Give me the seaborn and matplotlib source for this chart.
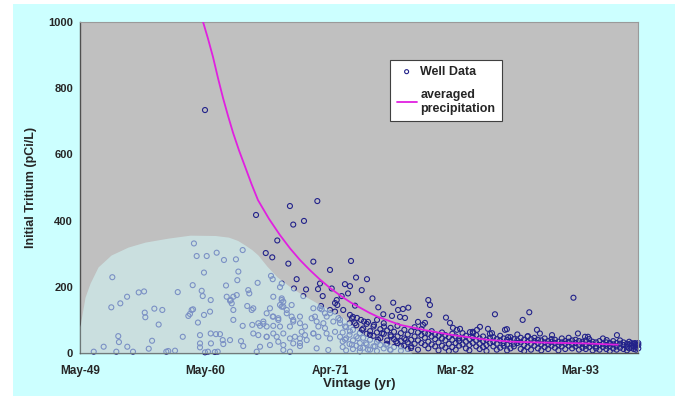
import numpy as np
import pandas as pd
import matplotlib
matplotlib.use("Agg")
import matplotlib.pyplot as plt
from matplotlib.patches import Rectangle
import seaborn as sns

# ---- well measurements: vintage (decimal year) and initial tritium (pCi/L) ----
well_years_light = [
    1950.59, 1951.46, 1952.22, 1952.13, 1952.57, 1952.74, 1952.80, 1952.92, 1953.51, 1953.53,
    1954.03, 1954.53, 1955.00, 1955.06, 1955.11, 1955.41, 1955.70, 1955.90, 1956.28, 1956.60,
    1956.95, 1957.71, 1957.95, 1958.39, 1959.02, 1959.17, 1959.26, 1959.37, 1959.61, 1959.72,
    1959.90, 1959.90, 1960.05, 1960.14, 1960.25, 1960.25, 1960.49, 1960.78, 1960.84, 1960.84,
    1961.30, 1961.36, 1961.65, 1961.89, 1962.00, 1962.18, 1962.24, 1962.53, 1962.59, 1962.82,
    1962.82, 1962.82, 1963.05, 1963.12, 1963.17, 1963.26, 1963.64, 1963.64, 1963.69, 1964.04,
    1964.13, 1964.22, 1964.57, 1964.57, 1964.87, 1964.95, 1965.16, 1965.16, 1965.45, 1965.74,
    1965.74, 1966.03, 1966.03, 1966.12, 1966.27, 1966.27, 1966.62, 1966.76, 1966.91, 1967.06,
    1967.20, 1967.20, 1967.50, 1967.78, 1967.78, 1968.07, 1968.07, 1968.66, 1968.66, 1968.81,
    1969.25, 1969.83, 1969.97, 1970.41, 1970.85, 1971.29, 1971.58, 1971.73, 1971.88, 1970.56,
    1962.53, 1962.68, 1964.43, 1959.29, 1958.88, 1964.48, 1959.90, 1960.86, 1961.94, 1963.49,
    1960.34, 1961.45, 1957.12,
    1966.32, 1967.06, 1967.20, 1966.91, 1967.06, 1967.93, 1967.50, 1967.93, 1969.83, 1966.32,
    1966.76, 1965.01, 1965.45, 1965.74, 1966.32, 1966.91, 1967.20, 1968.07, 1968.66, 1969.10,
    1969.68, 1970.12, 1970.27, 1970.71, 1970.85, 1971.00, 1971.29, 1971.73, 1972.02, 1972.17,
    1965.01, 1965.74, 1966.32, 1966.76, 1967.78, 1968.22, 1968.66, 1969.10, 1969.83, 1970.27,
    1970.99, 1971.29, 1971.73, 1972.17, 1967.20, 1968.66, 1970.12, 1971.14,
    1972.17, 1972.61, 1973.04, 1973.48, 1973.74, 1974.09, 1974.44, 1974.79, 1975.14, 1975.50,
    1975.85, 1976.20, 1976.64, 1977.08, 1977.51, 1977.95, 1978.39, 1972.61, 1973.21, 1973.92,
    1974.62, 1975.23, 1976.55, 1973.21, 1974.27, 1976.02,
]
well_vals_light = [
    4, 19, 229, 138, 4, 51, 33, 150, 170, 19,
    4, 183, 186, 122, 108, 13, 37, 134, 86, 130,
    4, 7, 184, 49, 118, 130, 205, 331, 293, 92,
    54, 29, 188, 172, 243, 115, 293, 125, 160, 59,
    57, 303, 57, 39, 281, 204, 170, 39, 160, 170,
    130, 100, 283, 175, 220, 246, 311, 82, 21, 142,
    190, 180, 135, 59, 4, 212, 82, 19, 88, 120,
    49, 135, 24, 233, 110, 223, 49, 100, 199, 160,
    140, 9, 130, 80, 4, 100, 29, 110, 30, 64,
    39, 59, 110, 135, 120, 130, 95, 151, 160, 132,
    158, 150, 130, 132, 112, 85, 17, 29, 27, 36,
    2, 4, 6,
    170, 165, 155, 145, 140, 145, 120, 110, 135, 110,
    105, 90, 95, 80, 82, 80, 59, 95, 90, 80,
    105, 95, 80, 90, 75, 110, 120, 125, 105, 90,
    54, 49, 59, 34, 44, 49, 44, 54, 59, 49,
    59, 44, 64, 49, 24, 21, 14, 9,
    100, 80, 65, 90, 45, 70, 30, 55, 85, 40,
    60, 25, 50, 35, 20, 40, 15, 40, 25, 15,
    10, 20, 10, 105, 95, 80,
]

well_years_dark = [
    1960.34, 1964.81, 1967.78, 1970.18, 1968.07, 1969.01, 1966.67, 1965.66, 1966.23, 1967.64,
    1969.83, 1971.29, 1968.37, 1967.06, 1968.13, 1969.19, 1970.24, 1970.41, 1971.44, 1968.95,
    1970.65, 1971.93, 1970.50, 1973.13, 1973.57, 1974.53, 1972.60, 1973.04, 1974.07, 1972.87,
    1972.31, 1975.01, 1973.48, 1972.45, 1975.52, 1976.83, 1978.15, 1977.25, 1977.68, 1975.96,
    1976.72, 1977.42, 1977.86, 1973.04, 1973.30, 1973.65, 1974.00, 1974.62, 1975.41, 1979.00,
    1979.44, 1979.90, 1980.05, 1979.99, 1979.61, 1981.45, 1981.80, 1982.06, 1982.41, 1982.68,
    1985.74, 1984.43, 1984.17, 1983.55, 1983.81, 1985.13, 1985.48, 1986.62, 1986.88, 1988.75,
    1988.17, 1992.62, 1993.01, 1993.63, 1990.74, 1989.42, 1989.68, 1986.79, 1988.63, 1996.43,
    1993.89, 1995.53, 1995.82, 1998.01, 1998.18, 1960.60, 1961.20,
]
well_vals_dark = [
    734, 417, 444, 459, 388, 399, 340, 302, 289, 270,
    276, 251, 223, 210, 195, 192, 193, 210, 195, 172,
    172, 145, 142, 278, 228, 223, 208, 202, 190, 180,
    172, 165, 143, 130, 138, 152, 137, 130, 133, 117,
    112, 109, 106, 115, 109, 106, 100, 94, 100, 94,
    85, 160, 145, 115, 91, 107, 91, 76, 70, 73,
    117, 79, 70, 63, 60, 73, 60, 70, 48, 123,
    100, 167, 59, 49, 54, 70, 59, 72, 51, 54,
    49, 39, 29, 30, 24, 4, 3,
]

# dense low-level band of recent wells
band_years = [
    1972.4, 1972.7, 1973.0, 1973.3, 1973.6, 1973.9, 1974.2, 1974.5, 1974.8, 1975.1,
    1975.4, 1975.7, 1976.0, 1976.3, 1976.6, 1976.9, 1977.2, 1977.5, 1977.8, 1978.1,
    1978.4, 1978.7, 1979.0, 1979.3, 1979.6, 1979.9, 1980.2, 1980.5, 1980.8, 1981.1,
    1981.4, 1981.7, 1982.0, 1982.3, 1982.6, 1982.9, 1983.2, 1983.5, 1983.8, 1984.1,
    1984.4, 1984.7, 1985.0, 1985.3, 1985.6, 1985.9, 1986.2, 1986.5, 1986.8, 1987.1,
    1987.4, 1987.7, 1988.0, 1988.3, 1988.6, 1988.9, 1989.2, 1989.5, 1989.8, 1990.1,
    1990.4, 1990.7, 1991.0, 1991.3, 1991.6, 1991.9, 1992.2, 1992.5, 1992.8, 1993.1,
    1993.4, 1993.7, 1994.0, 1994.3, 1994.6, 1994.9, 1995.2, 1995.5, 1995.8, 1996.1,
    1996.4, 1996.7, 1997.0, 1997.3, 1997.5, 1997.7, 1997.9, 1998.1, 1998.3,
]
band_vals_a = [
    62, 78, 55, 70, 84, 60, 74, 58, 66, 80, 62, 72, 90, 68, 54, 64, 82, 60, 70, 56,
    66, 50, 62, 54, 46, 58, 50, 42, 52, 44, 38, 48, 40, 50, 36, 46, 34, 42, 48, 38,
    44, 36, 40, 46, 34, 42, 38, 30, 40, 36, 28, 38, 32, 40, 34, 28, 36, 30, 38, 32,
    26, 34, 30, 24, 32, 28, 34, 26, 30, 36, 28, 22, 30, 26, 32, 24, 28, 22, 30, 26,
    20, 28, 24, 18, 26, 22, 28, 18, 24,
]
band_vals_b = [
    35, 44, 27, 38, 50, 30, 46, 88, 40, 52, 34, 45, 58, 38, 76, 42, 50, 36, 44, 32,
    40, 28, 38, 30, 24, 34, 26, 20, 32, 22, 54, 28, 58, 30, 44, 26, 52, 24, 30, 20,
    28, 50, 24, 30, 20, 28, 52, 44, 26, 48, 42, 30, 46, 24, 50, 42, 22, 40, 26, 44,
    36, 22, 40, 34, 44, 36, 22, 38, 20, 24, 34, 38, 18, 34, 20, 36, 18, 32, 20, 36,
    30, 16, 32, 28, 14, 30, 12, 26, 14,
]
band_vals_c = [
    18, 8, 90, 12, 22, 5, 16, 26, 10, 20, 6, 24, 14, 28, 9, 18, 30, 7, 22, 12,
    20, 78, 10, 72, 60, 14, 66, 56, 8, 62, 16, 6, 18, 10, 22, 60, 14, 8, 64, 54,
    12, 18, 6, 58, 48, 10, 16, 22, 8, 14, 20, 56, 12, 6, 18, 10, 46, 14, 8, 18,
    12, 42, 16, 8, 20, 12, 46, 14, 40, 10, 16, 12, 42, 8, 14, 10, 44, 12, 6, 14,
    10, 38, 12, 8, 34, 16, 20, 10, 30,
]

# ---- averaged precipitation curve ----
curve_years = [1959.90, 1960.17, 1960.60, 1961.04, 1961.48, 1961.92, 1962.36, 1962.80, 1963.33,
               1963.86, 1964.42, 1964.98, 1965.95, 1966.91, 1967.79, 1968.66, 1969.54, 1970.41,
               1971.38, 1972.34, 1973.13, 1973.92, 1974.71, 1975.50, 1977.43, 1979.62, 1982.07,
               1985.05, 1987.24, 1990.57, 1993.63, 1996.52]
curve_vals = [1040, 1000, 950, 894, 830, 770, 716, 665, 611, 562, 510, 462, 405, 356, 316, 281,
              250, 222, 194, 170, 152, 137, 122, 109, 85, 69, 54, 40, 34, 31, 29, 25]

# ---- shaded envelope ----
area_years = [1949.39, 1949.48, 1949.83, 1950.27, 1950.97, 1952.11, 1953.60, 1955.09, 1957.10,
              1959.03, 1961.22, 1962.40, 1963.20, 1963.85, 1964.45, 1964.98, 1965.77, 1966.65,
              1967.79, 1968.92, 1970.15, 1971.29, 1972.34, 1973.48, 1974.62, 1976.11, 1977.60,
              1978.48]
area_vals = [80, 100, 169, 211, 260, 296, 320, 335, 347, 356, 355, 350, 340, 326, 312, 296,
             262, 230, 200, 175, 151, 130, 109, 75, 48, 30, 18, 0]

tick_labels = ["May-49", "May-60", "Apr-71", "Mar-82", "Mar-93"]


def to_dates(years):
    out = []
    for y in years:
        base = pd.Timestamp(int(y), 1, 1)
        out.append(base + pd.Timedelta(days=(y - int(y)) * 365.25))
    return pd.to_datetime(out)


wells = pd.DataFrame({
    "date": to_dates(list(well_years_light) + list(well_years_dark) + band_years * 3),
    "tritium": list(well_vals_light) + list(well_vals_dark) + band_vals_a + band_vals_b + band_vals_c,
})
curve = pd.DataFrame({"date": to_dates(curve_years), "tritium": curve_vals})
area_dates = to_dates(area_years)

sns.set_theme(style="white")
plt.rcParams["font.family"] = ["Liberation Sans", "DejaVu Sans"]

fig = plt.figure(figsize=(6.75, 3.96), dpi=100)
fig.patch.set_facecolor("white")
fig.patches.append(Rectangle((13 / 675, 0), 1 - 13 / 675, 1 - 4 / 396,
                             transform=fig.transFigure, facecolor="#ccffff",
                             edgecolor="none", zorder=-10))

ax = fig.add_axes([80 / 675, 1 - 353 / 396, 558 / 675, 331 / 396])
ax.set_facecolor("#c0c0c0")

sns.scatterplot(data=wells, x="date", y="tritium", ax=ax, marker="o", s=13,
                facecolors="none", edgecolor="#22228a", linewidth=0.8,
                label="Well Data", zorder=2, clip_on=False)
ax.fill_between(area_dates, 0, area_vals, color="#d4ffff", alpha=0.5,
                linewidth=0, zorder=3)
sns.lineplot(data=curve, x="date", y="tritium", ax=ax, color="#e020e0",
             linewidth=1.3, label="averaged\nprecipitation", zorder=4)

start = pd.Timestamp("1949-05-22")
ax.set_xlim(start, start + pd.Timedelta(days=17856))
ax.set_ylim(0, 1000)
ticks = [start + pd.Timedelta(days=4000 * k) for k in range(len(tick_labels))]
ax.set_xticks(ticks)
ax.set_xticklabels(tick_labels)
ax.set_yticks([0, 200, 400, 600, 800, 1000])

ax.tick_params(axis="x", direction="inout", length=5, width=0.8, color="#404040",
               labelsize=8.5, pad=6)
ax.tick_params(axis="y", direction="out", length=3, width=0.8, color="#404040",
               labelsize=8, pad=2)
for lab in ax.get_xticklabels() + ax.get_yticklabels():
    lab.set_fontweight("bold")

for side in ["top", "right"]:
    ax.spines[side].set_color("#9a9a9a")
    ax.spines[side].set_linewidth(0.8)
for side in ["left", "bottom"]:
    ax.spines[side].set_color("#505050")
    ax.spines[side].set_linewidth(1.0)

ax.set_xlabel("Vintage (yr)", fontsize=9.5, fontweight="bold", labelpad=1)
ax.set_ylabel("Initial Tritium (pCi/L)", fontsize=9, fontweight="bold", labelpad=8)

leg = ax.legend(loc="upper left", bbox_to_anchor=(0.545, 0.905), frameon=True,
                fancybox=False, framealpha=1, edgecolor="#404040",
                prop={"weight": "bold", "size": 9}, handlelength=1.6,
                handletextpad=0.3, borderpad=0.5, labelspacing=0.9, markerscale=0.8)
leg.get_frame().set_linewidth(0.8)

fig.savefig("out.png", dpi=100)
